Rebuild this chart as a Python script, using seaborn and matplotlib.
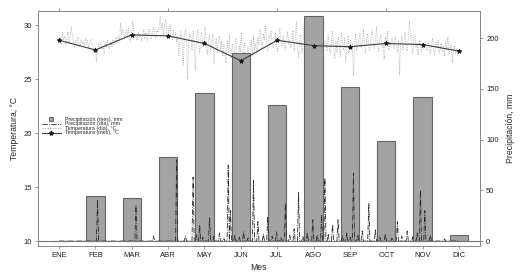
import matplotlib.pyplot as plt
from matplotlib.lines import Line2D
import numpy as np
import seaborn as sns

# ---------------- datos ----------------
meses = ['ENE', 'FEB', 'MAR', 'ABR', 'MAY', 'JUN', 'JUL', 'AGO', 'SEP', 'OCT', 'NOV', 'DIC']
prec_mes = [0, 44, 42, 83, 146, 185, 134, 222, 152, 99, 142, 6]          # mm
temp_mes = [28.6, 27.7, 29.1, 29.0, 28.3, 26.7, 28.6, 28.1, 28.0, 28.3, 28.2, 27.6]  # C

# temperatura diaria (C), un valor por dia
t_ene = [28.4, 28.9, 28.2, 29.3, 28.6, 29.0, 28.1, 28.7, 29.4, 28.3, 28.8, 29.9, 29.1, 28.5, 27.9, 28.6,
         28.2, 28.9, 28.4, 28.0, 28.7, 28.3, 28.5, 28.1, 28.8, 28.2, 28.6, 27.9, 28.4, 28.7, 28.3]
t_feb = [28.1, 27.6, 27.9, 26.6, 27.5, 28.2, 27.8, 28.4, 27.7, 28.0, 27.4, 28.3, 27.9, 28.6, 28.1, 27.8,
         28.4, 28.0, 28.7, 28.2, 28.5, 28.9, 28.3, 29.0, 28.6, 30.2, 29.1, 29.6]
t_mar = [29.2, 28.7, 29.5, 28.9, 29.8, 29.0, 28.5, 29.3, 30.3, 29.4, 28.8, 29.1, 28.6, 29.4, 28.9, 29.2,
         28.5, 29.0, 29.6, 28.8, 29.3, 28.6, 29.1, 29.7, 29.0, 28.7, 29.4, 29.9, 29.1, 28.8, 29.5]
t_abr = [29.3, 29.8, 30.8, 29.6, 30.2, 29.1, 29.9, 30.5, 29.4, 28.8, 29.7, 30.1, 29.2, 28.6, 29.5, 28.9,
         29.3, 28.4, 29.0, 27.2, 28.8, 29.4, 28.5, 26.3, 28.9, 29.6, 28.7, 25.0, 28.4, 29.2]
t_may = [28.9, 27.6, 29.4, 28.1, 25.8, 28.7, 29.6, 28.2, 27.4, 28.9, 29.3, 27.9, 28.5, 29.8, 28.0, 27.3,
         28.6, 29.1, 27.7, 28.4, 29.2, 26.4, 28.1, 28.8, 27.5, 28.3, 29.0, 27.8, 28.5, 27.1, 28.2]
t_jun = [27.8, 26.5, 28.6, 27.2, 29.1, 26.9, 27.6, 28.3, 26.2, 27.9, 28.8, 27.0, 26.4, 28.1, 27.5, 29.3,
         26.8, 27.7, 28.4, 26.1, 27.3, 28.0, 26.7, 27.9, 28.6, 27.1, 29.0, 27.6, 28.3, 27.4]
t_jul = [28.9, 28.2, 29.6, 28.5, 27.8, 29.2, 28.7, 30.0, 28.4, 27.6, 29.1, 28.8, 29.5, 28.1, 27.9, 28.6,
         29.3, 28.3, 27.5, 28.9, 29.7, 28.5, 28.0, 29.0, 28.4, 27.7, 28.8, 29.4, 28.2, 28.6, 27.9]
t_ago = [28.4, 29.5, 27.6, 28.8, 30.3, 28.0, 26.9, 28.5, 29.1, 27.4, 28.2, 29.8, 27.8, 26.2, 28.6, 29.0,
         27.5, 28.3, 29.4, 27.9, 28.7, 27.2, 28.9, 29.6, 27.7, 28.1, 26.8, 28.4, 29.2, 27.9, 28.5]
t_sep = [28.3, 27.6, 29.1, 28.0, 27.3, 28.7, 29.4, 27.8, 26.9, 28.5, 27.5, 28.9, 28.2, 27.1, 29.3, 28.4,
         27.7, 28.8, 26.6, 28.1, 29.0, 27.4, 28.6, 27.9, 28.3, 25.3, 28.0, 29.2, 27.6, 28.4]
t_oct = [28.6, 29.3, 27.9, 28.4, 29.7, 28.1, 27.4, 28.8, 29.2, 28.0, 27.6, 28.9, 29.5, 28.3, 27.8, 28.6,
         29.9, 28.2, 27.5, 28.7, 29.1, 27.9, 28.4, 26.8, 28.9, 28.1, 29.4, 27.7, 28.5, 28.0, 28.8]
t_nov = [28.4, 27.8, 28.9, 28.1, 27.5, 28.6, 25.4, 28.3, 29.0, 27.7, 28.5, 29.3, 28.0, 27.6, 28.8, 30.4,
         29.2, 28.1, 27.4, 28.7, 29.1, 27.9, 28.3, 27.2, 28.6, 28.0, 27.5, 28.4, 27.8, 28.2]
t_dic = [28.1, 27.6, 28.5, 27.9, 27.3, 28.2, 28.8, 27.7, 27.2, 28.4, 27.9, 28.6, 27.4, 27.8, 28.3, 27.5,
         28.0, 27.1, 28.5, 27.7, 28.9, 27.3, 27.9, 28.2, 26.5, 27.6, 28.1, 27.4, 27.8, 27.2, 27.6]

# precipitacion diaria: dias con lluvia (dia del ano) y lamina (mm)
rain_dia = [35, 70, 86, 107, 115, 122, 125, 128, 131, 137, 141, 146, 150, 154, 156, 160, 164, 168,
            172, 177, 181, 186, 190, 194, 198, 202, 206, 210, 214, 218, 222, 226, 231, 235, 239, 242,
            245, 249, 254, 258, 262, 265, 268, 272, 276, 282, 288, 292, 297, 303, 308, 312, 317, 322,
            326, 329, 333, 338, 351]
rain_mm = [41, 35, 5, 80, 5, 63, 6, 16, 4, 23, 5, 8, 3, 75, 30, 6, 4, 9,
           3, 60, 19, 7, 24, 5, 9, 4, 37, 6, 12, 48, 5, 8, 21, 6, 26, 62,
           7, 16, 21, 5, 8, 4, 67, 6, 10, 37, 11, 4, 7, 3, 19, 5, 10, 4,
           8, 50, 30, 6, 2]

sns.set_style('ticks')
plt.rcParams['font.family'] = ['Liberation Sans', 'DejaVu Sans']

temp_dia = np.array(t_ene + t_feb + t_mar + t_abr + t_may + t_jun +
                    t_jul + t_ago + t_sep + t_oct + t_nov + t_dic)
n_dias = len(temp_dia)
x_dia = np.arange(n_dias) * (len(meses) - 1) / (n_dias - 1)
prec_dia = np.zeros(n_dias)
prec_dia[rain_dia] = rain_mm
x_mes = np.arange(len(meses))

gris_eje = '#8a8a8a'
gris_barra = '#a3a3a3'

fig = plt.figure(figsize=(5.23, 2.80), dpi=100)
ax = fig.add_axes([0.0727, 0.1214, 0.845, 0.839])
ax_p = ax.twinx()
ax_f = ax.twinx()

# fondo: temperatura diaria
sns.lineplot(x=x_dia, y=temp_dia, ax=ax, color='#a8a8a8', lw=0.6, linestyle=':', legend=False)

# precipitacion mensual y diaria
sns.barplot(x=x_mes, y=prec_mes, ax=ax_p, native_scale=True, width=0.5, color=gris_barra,
            saturation=1, edgecolor='#666666', linewidth=0.8)
sns.lineplot(x=x_dia, y=prec_dia, ax=ax_p, color='#2b2b2b', lw=0.6, linestyle='-.', legend=False)
ax_p.axhline(0, color='#777777', lw=0.8)

# frente: temperatura mensual
sns.lineplot(x=x_mes, y=temp_mes, ax=ax_f, color='#3c3c3c', lw=0.8, marker='*',
             markersize=3, markeredgecolor='#1a1a1a', markerfacecolor='#1a1a1a', legend=False)

for a in (ax, ax_p, ax_f):
    a.set_xlim(-0.58, 11.58)
ax.set_ylim(9.54, 31.3)
ax_f.set_ylim(9.54, 31.3)
ax_p.set_ylim(-4.9, 226.6)

ax.set_yticks([10, 15, 20, 25, 30])
ax_p.set_yticks([0, 50, 100, 150, 200])
ax.set_xticks(x_mes, meses)
ax.set_xlabel('Mes', fontsize=6.2, labelpad=3)
ax.set_ylabel('Temperatura, °C', fontsize=6.2, labelpad=3)
ax_p.set_ylabel('Precipitación, mm', fontsize=6.2, labelpad=5)
ax_p.set_xlabel('')

for a in (ax, ax_p):
    a.tick_params(labelsize=5.5, length=2.5, width=0.6, color=gris_eje, labelcolor='#222222', pad=2)
    for s in a.spines.values():
        s.set_color(gris_eje)
        s.set_linewidth(0.7)
ax_f.set_axis_off()

arriba = ax.secondary_xaxis('top')
arriba.set_xticks([0, 3, 6, 9])
arriba.tick_params(labeltop=False, length=2.5, width=0.6, color=gris_eje)
arriba.spines['top'].set_color(gris_eje)
arriba.spines['top'].set_linewidth(0.7)

handles = [
    Line2D([], [], marker='s', ls='none', mfc=gris_barra, mec='#555555', ms=2.5, mew=0.6),
    Line2D([], [], color='#2b2b2b', ls='-.', lw=0.6),
    Line2D([], [], color='#9c9c9c', ls=':', lw=0.7),
    Line2D([], [], color='#3c3c3c', lw=0.8, marker='*', ms=3, mfc='#1a1a1a', mec='#1a1a1a'),
]
etiquetas = ['Precipitación (mes), mm', 'Precipitación (día), mm',
             'Temperatura (día), °C', 'Temperatura (mes), °C']
ax_f.legend(handles, etiquetas, loc='upper left', bbox_to_anchor=(0.0, 0.565), frameon=False,
            fontsize=3.8, handlelength=3.6, labelspacing=-0.1, handletextpad=0.8, borderpad=0.2)

fig.savefig('out.png', dpi=100)
